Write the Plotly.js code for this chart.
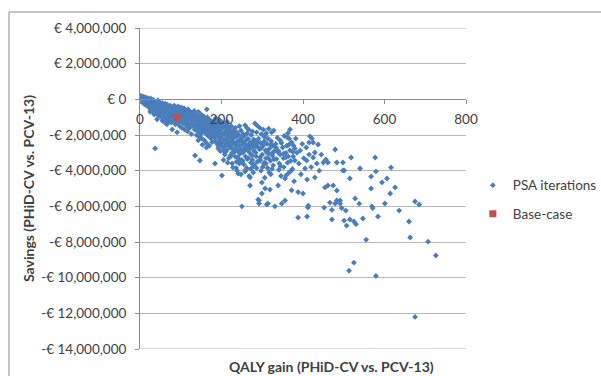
<!DOCTYPE html>
<html>
<head>
<meta charset="utf-8">
<script src="https://cdn.plot.ly/plotly-3.0.1.min.js"></script>
<style>html,body{margin:0;padding:0;background:#fff;}#chart{width:601px;height:376px;}</style>
</head>
<body>
<div id="chart"></div>
<script>
// PSA iterations: QALY gain (x) and savings in euros (y)
const psaQaly = [
  1,2,3,4,5,6,7,8,9,10,11,12,13,14,15,16,17,18,19,20,
  21,22,23,24,25,26,27,28,29,30,31,32,33,34,35,36,37,38,39,40,41,42,42,43,44,45,25,30,35,40,
  46,47,48,49,50,51,52,53,54,55,56,57,58,59,60,61,62,63,64,65,66,66,67,68,69,70,71,72,73,74,75,76,77,78,79,79,80,50,55,60,65,70,75,52,62,
  81,82,83,84,85,86,87,88,89,90,91,91,92,93,94,95,96,97,98,99,100,101,102,103,104,105,106,107,108,109,110,111,112,113,114,115,116,117,118,119,120,121,122,123,124,125,126,127,128,129,130,85,95,105,115,125,88,98,108,118,
  131,132,133,134,135,135,136,137,138,139,140,141,142,143,144,145,146,147,147,148,149,150,151,152,153,154,155,156,157,158,159,160,161,162,163,164,164,165,166,167,168,169,170,171,172,173,174,175,176,177,178,179,180,135,140,145,150,155,160,165,170,175,138,148,158,168,178,143,153,163,
  181,182,183,184,184,185,186,187,188,189,190,191,192,193,194,195,196,197,198,199,200,201,201,202,203,204,205,206,207,208,209,210,211,212,213,214,215,216,217,218,219,220,221,222,223,224,225,226,227,228,229,230,185,190,195,200,205,210,215,220,225,188,198,208,218,228,192,212,222,196,
  231,232,233,234,235,236,237,238,239,240,241,242,243,244,245,246,247,248,249,250,250,251,252,253,254,255,256,257,258,259,260,261,262,263,264,265,266,267,268,269,270,270,271,272,273,274,275,276,277,278,279,280,235,245,255,265,275,228,241,238,248,258,268,278,262,
  205,210,215,220,222,226,232,236,240,244,247,252,256,260,263,267,272,276,280,283,286,289,293,297,301,305,309,313,317,321,324,329,334,341,347,353,359,366,371,377,
  281,282,284,285,286,287,288,290,291,292,292,293,294,295,296,297,298,299,299,300,302,303,304,305,306,307,308,309,310,311,312,313,314,314,315,316,318,319,320,321,322,323,325,326,327,328,330,285,295,305,315,325,290,300,310,
  331,333,335,337,339,340,342,344,344,346,348,350,352,354,356,356,358,360,361,362,363,364,366,368,368,370,372,374,375,376,378,380,380,338,352,365,345,358,372,
  382,385,388,390,393,395,398,400,402,405,408,409,410,410,412,413,415,415,417,420,422,425,425,429,429,388,
  434,437,440,445,450,452,454,456,461,461,466,471,471,474,479,479,483,483,483,491,491,495,498,498,501,501,505,507,513,515,515,518,525,525,528,530,
  538,540,547,555,567,567,569,571,577,579,579,584,594,601,606,614,616,626,636,660,663,675,675,685,707,726
];
const psaSavings = [
  0.1e6,0.2e6,-0.05e6,0.08e6,-0.15e6,0.12e6,0,-0.1e6,0.15e6,-0.25e6,0.05e6,-0.05e6,-0.3e6,0.1e6,-0.18e6,0.02e6,-0.35e6,-0.08e6,0.06e6,-0.22e6,
  -0.4e6,0,-0.15e6,-0.5e6,-0.28e6,0.05e6,-0.6e6,-0.1e6,-0.38e6,-0.2e6,-0.7e6,-0.02e6,-0.45e6,-0.25e6,-0.55e6,-0.12e6,-2.75e6,-0.35e6,-0.8e6,-0.18e6,-0.5e6,-1.12e6,-0.28e6,-0.65e6,-0.05e6,-0.9e6,-0.7e6,-0.45e6,-0.85e6,-0.6e6,
  -0.35e6,-0.15e6,-0.75e6,-0.5e6,-0.95e6,-0.25e6,-0.6e6,-0.4e6,-1.05e6,-0.2e6,-0.7e6,-0.5e6,-0.3e6,-0.85e6,-1.1e6,-0.45e6,-0.25e6,-0.65e6,-0.95e6,-0.4e6,-1.4e6,-0.75e6,-0.3e6,-0.55e6,-1.15e6,-0.85e6,-0.45e6,-0.65e6,-1.25e6,-0.35e6,-0.95e6,-0.55e6,-1.3e6,-0.75e6,-1.69e6,-0.45e6,-1.05e6,-0.8e6,-1.2e6,-0.7e6,-0.6e6,-1.0e6,-0.8e6,-0.55e6,-1.3e6,
  -0.5e6,-0.8e6,-1.2e6,-0.35e6,-0.95e6,-0.6e6,-1.4e6,-0.75e6,-0.45e6,-1.15e6,-1.85e6,-0.9e6,-0.6e6,-1.3e6,-0.4e6,-1.05e6,-0.75e6,-1.5e6,-0.55e6,-0.95e6,-1.25e6,-0.45e6,-0.8e6,-1.6e6,-1.05e6,-0.6e6,-1.35e6,-0.9e6,-0.5e6,-1.15e6,-1.7e6,-0.75e6,-1.0e6,-1.45e6,-0.65e6,-1.25e6,-0.9e6,-1.8e6,-0.55e6,-1.1e6,-1.4e6,-0.8e6,-1.6e6,-1.05e6,-0.7e6,-1.3e6,-1.95e6,-0.95e6,-1.5e6,-0.75e6,-1.2e6,-1.1e6,-1.0e6,-1.0e6,-1.1e6,-1.0e6,-0.7e6,-0.65e6,-0.85e6,-1.55e6,
  -0.9e6,-1.4e6,-0.65e6,-1.7e6,-1.1e6,-3.15e6,-0.85e6,-1.55e6,-1.25e6,-2.0e6,-0.95e6,-1.45e6,-1.8e6,-0.7e6,-1.2e6,-1.6e6,-2.1e6,-1.0e6,-3.43e6,-1.35e6,-1.75e6,-0.85e6,-1.5e6,-2.2e6,-1.15e6,-1.85e6,-1.3e6,-0.95e6,-1.65e6,-2.3e6,-1.1e6,-1.45e6,-1.9e6,-1.2e6,-2.45e6,-0.56e6,-1.6e6,-1.0e6,-1.75e6,-2.05e6,-1.35e6,-1.55e6,-2.6e6,-1.15e6,-1.9e6,-1.4e6,-2.2e6,-1.7e6,-1.25e6,-2.4e6,-1.55e6,-1.95e6,-1.35e6,-1.3e6,-1.6e6,-1.35e6,-1.9e6,-1.65e6,-1.75e6,-1.85e6,-2.0e6,-2.1e6,-1.15e6,-1.25e6,-1.35e6,-1.45e6,-1.8e6,-2.3e6,-2.55e6,-2.7e6,
  -1.2e6,-1.7e6,-2.15e6,-1.45e6,-3.6e6,-1.9e6,-1.05e6,-2.4e6,-1.6e6,-2.0e6,-1.3e6,-1.8e6,-2.6e6,-1.5e6,-2.2e6,-1.15e6,-1.75e6,-2.9e6,-1.4e6,-2.1e6,-1.65e6,-2.45e6,-4.27e6,-1.3e6,-1.95e6,-2.7e6,-1.55e6,-2.25e6,-1.85e6,-3.1e6,-1.45e6,-2.0e6,-2.5e6,-1.7e6,-2.85e6,-1.25e6,-2.15e6,-1.9e6,-2.4e6,-3.3e6,-1.6e6,-2.05e6,-2.7e6,-1.8e6,-2.3e6,-1.5e6,-2.55e6,-3.0e6,-1.95e6,-2.2e6,-2.8e6,-1.7e6,-2.35e6,-2.5e6,-2.0e6,-1.95e6,-2.9e6,-2.3e6,-1.85e6,-2.6e6,-2.1e6,-1.35e6,-2.55e6,-2.65e6,-1.55e6,-2.45e6,-2.75e6,-1.45e6,-3.15e6,-2.35e6,
  -1.9e6,-2.45e6,-3.2e6,-1.6e6,-2.7e6,-2.1e6,-3.5e6,-1.85e6,-2.35e6,-2.9e6,-4.16e6,-2.0e6,-2.6e6,-1.5e6,-3.05e6,-2.25e6,-2.8e6,-1.75e6,-3.4e6,-2.15e6,-6.0e6,-2.55e6,-3.0e6,-1.95e6,-2.4e6,-3.65e6,-2.05e6,-2.75e6,-1.46e6,-3.2e6,-2.3e6,-2.6e6,-3.85e6,-1.9e6,-2.85e6,-2.2e6,-3.3e6,-1.7e6,-2.5e6,-3.0e6,-4.38e6,-4.83e6,-2.4e6,-3.55e6,-2.0e6,-2.7e6,-3.15e6,-1.8e6,-2.45e6,-3.75e6,-2.25e6,-2.9e6,-2.55e6,-2.35e6,-2.5e6,-2.65e6,-2.6e6,-3.82e6,-3.35e6,-4.0e6,-4.2e6,-4.05e6,-4.3e6,-4.1e6,-1.6e6,
  -3.4e6,-2.95e6,-3.55e6,-2.65e6,-3.2e6,-3.6e6,-2.95e6,-3.85e6,-3.25e6,-3.6e6,-2.3e6,-3.45e6,-2.9e6,-3.95e6,-3.35e6,-2.8e6,-3.9e6,-3.4e6,-3.65e6,-2.65e6,-3.85e6,-2.4e6,-3.45e6,-2.75e6,-3.8e6,-2.35e6,-3.6e6,-2.9e6,-4.1e6,-2.55e6,-3.9e6,-3.35e6,-2.7e6,-3.95e6,-2.45e6,-3.8e6,-4.25e6,-2.2e6,-4.0e6,-2.6e6,
  -2.3e6,-1.35e6,-3.0e6,-2.55e6,-1.85e6,-1.46e6,-3.5e6,-5.62e6,-2.2e6,-5.67e6,-5.84e6,-2.8e6,-1.6e6,-3.25e6,-2.45e6,-4.0e6,-1.95e6,-5.28e6,-4.66e6,-3.1e6,-2.6e6,-1.7e6,-3.6e6,-2.1e6,-4.4e6,-5.0e6,-2.85e6,-3.3e6,-1.9e6,-5.9e6,-2.5e6,-3.85e6,-5.84e6,-2.2e6,-3.05e6,-1.65e6,-2.75e6,-5.06e6,-3.45e6,-4.2e6,-2.35e6,-1.85e6,-3.15e6,-2.6e6,-3.7e6,-1.75e6,-2.9e6,-3.2e6,-3.4e6,-3.55e6,-3.3e6,-3.0e6,-2.7e6,-2.5e6,-2.95e6,
  -6.0e6,-2.5e6,-3.35e6,-2.15e6,-4.83e6,-2.9e6,-3.6e6,-2.3e6,-3.1e6,-4.3e6,-5.84e6,-2.7e6,-3.3e6,-2.05e6,-4.44e6,-5.67e6,-3.0e6,-2.6e6,-2.13e6,-3.55e6,-1.9e6,-3.2e6,-4.1e6,-1.69e6,-2.85e6,-3.45e6,-2.4e6,-3.9e6,-2.95e6,-3.2e6,-4.6e6,-2.75e6,-3.43e6,-2.95e6,-3.05e6,-2.55e6,-3.75e6,-3.25e6,-5.1e6,
  -2.2e6,-3.0e6,-6.63e6,-3.6e6,-2.87e6,-4.2e6,-2.5e6,-5.28e6,-3.3e6,-3.88e6,-2.7e6,-3.43e6,-6.57e6,-4.5e6,-6.07e6,-5.96e6,-2.42e6,-3.1e6,-2.08e6,-3.8e6,-2.19e6,-2.42e6,-3.26e6,-2.98e6,-4.38e6,-5.2e6,
  -3.6e6,-2.53e6,-4.0e6,-3.1e6,-3.54e6,-6.07e6,-4.94e6,-3.37e6,-3.54e6,-4.83e6,-5.79e6,-6.74e6,-6.2e6,-4.83e6,-2.81e6,-5.84e6,-3.54e6,-5.67e6,-5.11e6,-5.67e6,-5.84e6,-6.1e6,-3.54e6,-3.99e6,-6.8e6,-3.99e6,-6.24e6,-7.08e6,-9.61e6,-6.74e6,-4.44e6,-3.26e6,-9.16e6,-6.85e6,-5.56e6,-7.0e6,
  -5.85e6,-3.88e6,-6.68e6,-7.87e6,-4.33e6,-5.0e6,-6.0e6,-6.1e6,-3.26e6,-4.04e6,-9.9e6,-6.57e6,-4.66e6,-5.84e6,-4.44e6,-5.28e6,-3.82e6,-4.94e6,-6.24e6,-6.85e6,-7.75e6,-5.73e6,-12.2e6,-5.9e6,-7.98e6,-8.76e6
];
const baseQaly = [90];
const baseSavings = [-1.0e6];

const xTickVals = [0, 200, 400, 600, 800];
const yTickVals = [4e6, 2e6, 0, -2e6, -4e6, -6e6, -8e6, -10e6, -12e6, -14e6];
const yTickText = ['€ 4,000,000', '€ 2,000,000', '€ 0', '-€ 2,000,000', '-€ 4,000,000', '-€ 6,000,000',
  '-€ 8,000,000', '-€ 10,000,000', '-€ 12,000,000', '-€ 14,000,000'];
const seriesNames = ['PSA iterations', 'Base-case'];
const xTitle = 'QALY gain (PHiD-CV vs. PCV-13)';
const yTitle = 'Savings (PHiD-CV vs. PCV-13)';

const FONT = 'Lato, "Open Sans", sans-serif';
const TXT = '#404040';
const GRID = '#b8b8b8';

const traces = [
  { type: 'scatter', mode: 'markers', name: seriesNames[0], x: psaQaly, y: psaSavings,
    legendgroup: 'a', marker: { symbol: 'diamond', size: 4.5, color: '#4a7ebb' }, hoverinfo: 'x+y' },
  { type: 'scatter', mode: 'markers', name: seriesNames[1], x: baseQaly, y: baseSavings,
    legendgroup: 'b', marker: { symbol: 'square', size: 7, color: '#c0504d' }, hoverinfo: 'x+y' }
];

const yMin = yTickVals[yTickVals.length - 1], yMax = yTickVals[0];

const layout = {
  width: 601, height: 376,
  margin: { l: 140, r: 135, t: 28, b: 27, autoexpand: false },
  paper_bgcolor: '#ffffff', plot_bgcolor: '#ffffff',
  font: { family: FONT, size: 13.5, color: TXT },
  showlegend: true,
  legend: { x: 1.021, y: 0.558, xanchor: 'left', yanchor: 'top', traceorder: 'grouped',
    tracegroupgap: 8, itemwidth: 30, font: { family: FONT, size: 13.5, color: TXT }, bgcolor: 'rgba(0,0,0,0)' },
  xaxis: {
    range: [0, 800], tickvals: xTickVals, ticktext: xTickVals.map(String),
    anchor: 'free', position: (0 - yMin) / (yMax - yMin),
    showgrid: false, zeroline: false, showline: true, linecolor: '#8c8c8c', linewidth: 1,
    ticks: 'outside', ticklen: 4, tickcolor: '#8c8c8c', ticklabelstandoff: 3,
    tickfont: { family: FONT, size: 13.5, color: TXT }, fixedrange: true
  },
  yaxis: {
    range: [yMin, yMax], tickvals: yTickVals, ticktext: yTickText,
    showgrid: true, gridcolor: GRID, gridwidth: 1, zeroline: false,
    showline: true, linecolor: '#8c8c8c', linewidth: 1,
    ticks: 'outside', ticklen: 4, tickcolor: '#8c8c8c', ticklabelstandoff: 6,
    tickfont: { family: FONT, size: 13.5, color: TXT }, fixedrange: true
  },
  shapes: [
    { type: 'rect', xref: 'paper', yref: 'paper', x0: -0.4018, x1: 1.426, y0: -0.0966, y1: 1.0498,
      line: { color: '#8c8c8c', width: 1 }, fillcolor: 'rgba(0,0,0,0)', layer: 'below' },
    { type: 'line', xref: 'paper', yref: 'y', x0: 0, x1: 1, y0: yMax, y1: yMax,
      line: { color: GRID, width: 1 }, layer: 'below' },
    { type: 'line', xref: 'paper', yref: 'y', x0: 0, x1: 1, y0: yMin, y1: yMin,
      line: { color: GRID, width: 1 }, layer: 'below' }
  ],
  annotations: [
    { text: '<b>' + xTitle + '</b>', xref: 'paper', yref: 'paper', x: 0.586, y: -0.053,
      xanchor: 'center', yanchor: 'middle', showarrow: false, font: { family: FONT, size: 14, color: TXT } },
    { text: '<b>' + yTitle + '</b>', xref: 'paper', yref: 'paper', x: -0.3405, y: 0.5016,
      xanchor: 'center', yanchor: 'middle', textangle: -90, showarrow: false, font: { family: FONT, size: 14, color: TXT } }
  ]
};

Plotly.newPlot('chart', traces, layout, { displayModeBar: false, staticPlot: true });
</script>
</body>
</html>
